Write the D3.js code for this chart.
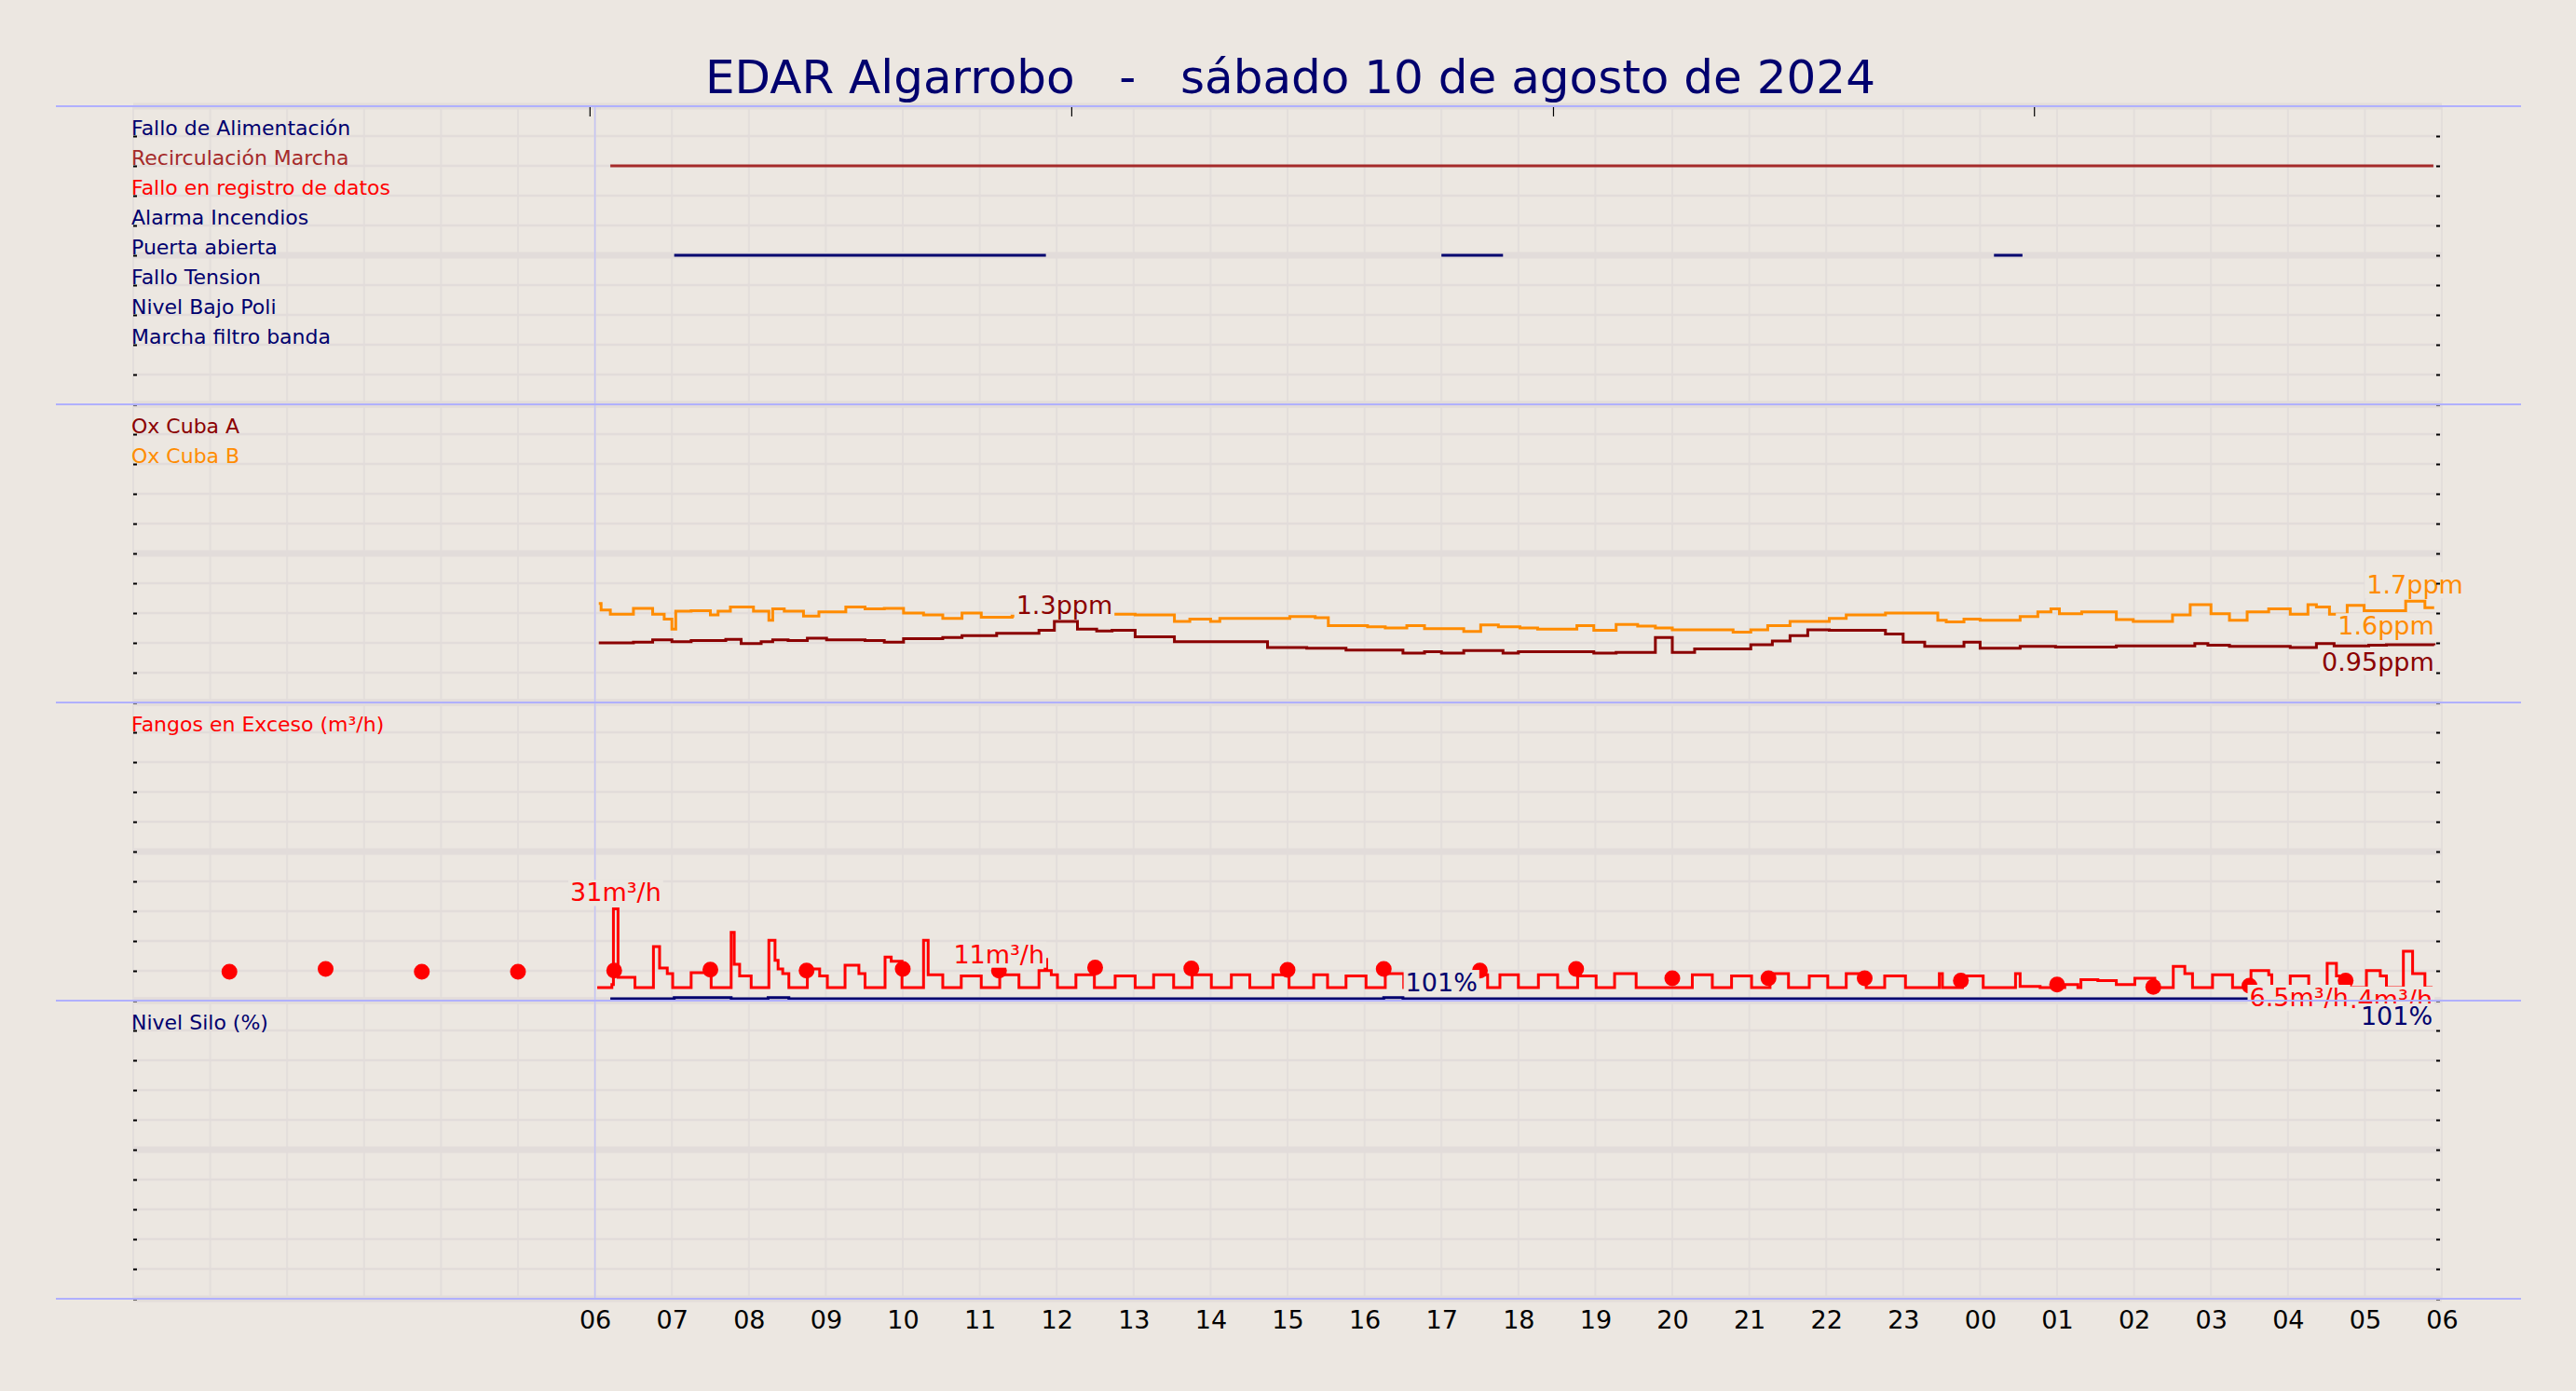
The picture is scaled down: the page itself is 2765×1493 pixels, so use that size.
<!DOCTYPE html>
<html>
<head>
<meta charset="utf-8">
<script src="https://cdn.jsdelivr.net/npm/d3@7"></script>
<style>
body { margin: 0; background: #ece7e1; }
text { font-family: "DejaVu Sans", sans-serif; }
</style>
</head>
<body>
<div id="chart"></div>
<script>
// ---- data ----
var title = "EDAR Algarrobo   -   sábado 10 de agosto de 2024";

var xTickHours = [6, 7, 8, 9, 10, 11, 12, 13, 14, 15, 16, 17, 18, 19, 20, 21, 22, 23, 24, 25, 26, 27, 28, 29, 30];
var topTickHours = [5.93, 12.19, 18.45, 24.7];

var signals = ["Fallo de Alimentación", "Recirculación Marcha", "Fallo en registro de datos", "Alarma Incendios",
               "Puerta abierta", "Fallo Tension", "Nivel Bajo Poli", "Marcha filtro banda"];
var signalEvents = [
  {signal: "Recirculación Marcha", start: 6.2, end: 29.89},
  {signal: "Puerta abierta", start: 7.03, end: 11.86},
  {signal: "Puerta abierta", start: 17.0, end: 17.8},
  {signal: "Puerta abierta", start: 24.18, end: 24.55}
];

var oxNames = ["Ox Cuba A", "Ox Cuba B"];
var oxAHours = [6.05, 6.5, 6.75, 7.0, 7.25, 7.7, 7.9, 8.16, 8.31, 8.51, 8.76, 9.01, 9.51, 9.76, 10.01, 10.52, 10.77,
  11.22, 11.77, 11.97, 12.27, 12.52, 12.72, 13.02, 13.53, 14.74, 15.25, 15.76, 16.5, 16.78, 17.0, 17.29, 17.8, 18.0,
  18.98, 19.27, 19.78, 20.0, 20.29, 21.02, 21.3, 21.53, 21.76, 22.04, 22.77, 23.0, 23.28, 23.79, 24.0, 24.52, 24.98,
  25.77, 26.79, 26.96, 27.24, 28.03, 28.37, 28.6, 29.05, 29.28, 29.9];
var oxAValues = [1.00, 1.01, 1.05, 1.02, 1.04, 1.06, 0.99, 1.02, 1.05, 1.04, 1.08, 1.05, 1.04, 1.01, 1.07, 1.09, 1.12,
  1.16, 1.21, 1.36, 1.23, 1.20, 1.21, 1.10, 1.02, 0.92, 0.91, 0.88, 0.83, 0.85, 0.83, 0.87, 0.83, 0.85,
  0.83, 0.84, 1.09, 0.84, 0.90, 0.97, 1.03, 1.12, 1.22, 1.21, 1.15, 1.01, 0.94, 1.01, 0.91, 0.94, 0.93,
  0.95, 0.99, 0.96, 0.94, 0.92, 0.99, 0.95, 0.96, 0.97, 0.96];
var oxBHours = [6.05, 6.08, 6.2, 6.5, 6.75, 6.9, 7.0, 7.05, 7.25, 7.5, 7.6, 7.76, 8.06, 8.26, 8.31, 8.46, 8.71, 8.91,
  9.26, 9.51, 9.76, 10.01, 10.27, 10.52, 10.77, 11.02, 11.42, 12.0, 12.72, 13.02, 13.53, 13.73, 14.0, 14.12, 15.03,
  15.36, 15.53, 16.04, 16.27, 16.55, 16.78, 17.29, 17.51, 17.74, 18.02, 18.25, 18.76, 18.98, 19.27, 19.55, 19.78,
  20.0, 20.79, 21.02, 21.24, 21.53, 22.04, 22.26, 22.77, 23.0, 23.45, 23.56, 23.79, 24.0, 24.24, 24.52, 24.75,
  24.92, 25.03, 25.32, 25.77, 25.99, 26.5, 26.73, 27.0, 27.24, 27.47, 27.75, 28.03, 28.26, 28.37, 28.54, 28.77,
  28.99, 29.22, 29.53, 29.78, 29.9];
var oxBValues = [1.66, 1.55, 1.48, 1.58, 1.48, 1.40, 1.23, 1.53, 1.54, 1.47, 1.53, 1.60, 1.53, 1.38, 1.57, 1.53, 1.45, 1.52,
  1.60, 1.57, 1.58, 1.50, 1.47, 1.41, 1.50, 1.43, 1.45, 1.48, 1.48, 1.47, 1.36, 1.40, 1.36, 1.41, 1.44,
  1.42, 1.29, 1.27, 1.25, 1.29, 1.24, 1.19, 1.30, 1.27, 1.25, 1.23, 1.29, 1.21, 1.31, 1.28, 1.25,
  1.22, 1.18, 1.22, 1.29, 1.36, 1.41, 1.47, 1.50, 1.50, 1.38, 1.35, 1.40, 1.38, 1.38, 1.44, 1.52,
  1.57, 1.49, 1.52, 1.39, 1.36, 1.47, 1.64, 1.49, 1.38, 1.52, 1.57, 1.48, 1.64, 1.60, 1.48, 1.63,
  1.54, 1.54, 1.70, 1.59, 1.59];

var fangosName = "Fangos en Exceso (m³/h)";
var fangosHours = [6.03, 6.22, 6.24, 6.3, 6.52, 6.76, 6.84, 6.94, 7.01, 7.25, 7.51, 7.77, 7.81, 7.88, 8.03, 8.26, 8.34,
  8.38, 8.44, 8.52, 8.76, 8.92, 9.02, 9.25, 9.43, 9.51, 9.77, 9.85, 9.99, 10.27, 10.33, 10.52, 10.76, 11.02, 11.26,
  11.51, 11.77, 11.85, 11.87, 11.93, 12.01, 12.25, 12.49, 12.76, 13.02, 13.26, 13.52, 13.76, 14.01, 14.27, 14.51,
  14.81, 15.02, 15.34, 15.52, 15.76, 16.02, 16.27, 16.51, 16.76, 17.02, 17.26, 17.6, 17.76, 18.0, 18.26, 18.51,
  18.77, 19.01, 19.25, 19.53, 20.26, 20.52, 20.77, 21.03, 21.27, 21.51, 21.78, 22.02, 22.26, 22.52, 22.76, 23.03,
  23.47, 23.51, 23.77, 24.04, 24.46, 24.52, 24.78, 25.1, 25.27, 25.31, 25.53, 25.77, 26.01, 26.27, 26.51, 26.66,
  26.76, 27.02, 27.28, 27.52, 27.75, 27.79, 28.03, 28.27, 28.51, 28.63, 28.78, 29.02, 29.2, 29.28, 29.5, 29.62,
  29.78, 29.88];
var fangosValues = [4.4, 5.4, 30.8, 7.8, 4.4, 18.1, 10.9, 9.1, 4.4, 9.4, 4.4, 22.9, 12.2, 8.3, 4.4, 20.2, 13.5,
  10.6, 9.1, 4.4, 10.6, 8.3, 4.4, 11.9, 9.1, 4.4, 14.6, 13.2, 4.4, 20.2, 8.7, 4.4, 8.3, 4.4, 8.7,
  4.4, 10.1, 13.8, 10.1, 8.7, 4.4, 8.7, 4.4, 8.3, 4.4, 8.7, 4.4, 8.7, 4.4, 8.7, 4.4,
  8.7, 4.4, 8.7, 4.4, 8.3, 4.4, 9.1, 4.4, 8.7, 4.4, 8.7, 4.4, 8.7, 4.4, 8.7, 4.4,
  8.3, 4.4, 9.1, 4.4, 8.7, 4.4, 8.3, 4.4, 9.1, 4.4, 8.3, 4.4, 9.1, 4.4, 8.3, 4.4,
  9.1, 4.4, 8.3, 4.4, 9.1, 4.8, 4.4, 5.4, 4.4, 7.0, 6.7, 5.4, 7.5, 4.4, 11.5, 9.1,
  4.4, 8.7, 4.4, 10.1, 8.7, 4.4, 8.3, 4.4, 12.5, 8.3, 4.4, 10.1, 8.3, 4.4, 16.6, 9.1,
  4.4, 4.4];
var dotHours = [1.25, 2.5, 3.75, 5.0, 6.25, 7.5, 8.75, 10.0, 11.25, 12.5, 13.75, 15.0, 16.25, 17.5, 18.75, 20.0,
  21.25, 22.5, 23.75, 25.0, 26.25, 27.5, 28.75];
var dotValues = [9.7, 10.6, 9.7, 9.7, 10.1, 10.4, 10.1, 10.6, 10.1, 11.1, 10.8, 10.3, 10.6, 10.1, 10.6, 7.5,
  7.5, 7.5, 6.7, 5.4, 4.6, 5.0, 6.7];

var siloName = "Nivel Silo (%)";
var siloHours = [6.2, 7.03, 7.77, 8.25, 8.52, 16.25, 16.5, 29.88];
var siloValues = [100.6, 101.0, 100.6, 101.0, 100.6, 101.0, 100.6, 100.6];

// value labels drawn on the series (later ones sit on top)
var annotations = [
  {series: "oxA", hour: 12.1, value: 1.36, text: "1.3ppm", place: "above"},
  {series: "oxB", hour: 29.65, value: 1.70, text: "1.7ppm", place: "above"},
  {series: "oxB", hour: 29.9, value: 1.59, text: "1.6ppm", place: "below-end"},
  {series: "oxA", hour: 29.9, value: 0.96, text: "0.95ppm", place: "below-end"},
  {series: "fangos", hour: 6.27, value: 30.8, text: "31m³/h", place: "above"},
  {series: "fangos", hour: 11.25, value: 10.1, text: "11m³/h", place: "above"},
  {series: "silo", hour: 17.0, value: 100.6, text: "101%", place: "above"},
  {series: "fangos", hour: 29.88, value: 4.4, text: "4.4m³/h", place: "below-end"},
  {series: "silo", hour: 29.88, value: 100.6, text: "101%", place: "below-end"},
  {series: "fangos", hour: 27.5, value: 5.0, text: "6.5m³/h", place: "below-start"}
];

// ---- styles / layout ----
var W = 2765, H = 1493;
var bg = "#ece7e1", navy = "#00006e";
var colors = {oxA: "#8b0000", oxB: "#ff8c00", fangos: "#ff0000", silo: navy};
var belowGap = {oxA: 27, oxB: 29, fangos: 22, silo: 28};
var signalColor = {"Recirculación Marcha": "#a52a2a", "Fallo en registro de datos": "#ff0000"};
var panelTops = [114, 434, 754, 1074], panelH = 320;

var svg = d3.select("#chart").append("svg").attr("width", W).attr("height", H);
svg.append("rect").attr("width", W).attr("height", H).attr("fill", bg);

var x = d3.scaleLinear().domain([0, 30]).range([143, 2621]);
var gridY = d3.scaleLinear().domain([0, 10]).range([panelH, 0]);
var rowY = d3.scalePoint().domain(signals).range([32, 256]);
var yOx = d3.scaleLinear().domain([0, 5]).range([panelH, 0]);
var yFangos = d3.scaleLinear().domain([0, 100]).range([panelH, 0]);
var ySilo = d3.scaleLinear().domain([0, 100]).range([panelH, 0]);
var yOf = {oxA: yOx, oxB: yOx, fangos: yFangos, silo: ySilo};
var panelOf = {oxA: 1, oxB: 1, fangos: 2, silo: 3};

var gridLayer = svg.append("g");
var dataLayer = svg.append("g");
var gridPanels = panelTops.map(function(t) {
  return gridLayer.append("g").attr("transform", "translate(0," + t + ")");
});

// grid
gridPanels.forEach(function(g) {
  g.selectAll(".vg").data(x.ticks(30)).enter().append("line")
    .attr("x1", x).attr("x2", x).attr("y1", 0).attr("y2", panelH)
    .attr("stroke", "#e3dedb").attr("stroke-width", 2);
  g.selectAll(".hg").data(gridY.ticks(10)).enter().append("line")
    .attr("x1", x(0)).attr("x2", x(30))
    .attr("y1", gridY).attr("y2", gridY)
    .attr("stroke", "#e2dcda")
    .attr("stroke-width", function(d) { return d % 5 === 0 ? 7 : 2.5; });
});

// start of day marker
gridLayer.append("line").attr("x1", x(6)).attr("x2", x(6))
  .attr("y1", panelTops[0]).attr("y2", panelTops[3] + panelH)
  .attr("stroke", "#c4c4f4").attr("stroke-width", 1.5);

var panels = panelTops.map(function(t) {
  return dataLayer.append("g").attr("transform", "translate(0," + t + ")");
});

// panel 1: digital signals
panels[0].selectAll(".ev").data(signalEvents).enter().append("line")
  .attr("x1", function(d) { return x(d.start); })
  .attr("x2", function(d) { return x(d.end); })
  .attr("y1", function(d) { return rowY(d.signal); })
  .attr("y2", function(d) { return rowY(d.signal); })
  .attr("stroke", function(d) { return signalColor[d.signal] || navy; })
  .attr("stroke-width", 3);

function stepLine(yScale) {
  return d3.line().x(function(d) { return x(d[0]); }).y(function(d) { return yScale(d[1]); })
    .curve(d3.curveStepAfter);
}

// panel 2: oxygen
panels[1].append("path").datum(d3.zip(oxBHours, oxBValues))
  .attr("d", stepLine(yOx)).attr("fill", "none").attr("stroke", colors.oxB).attr("stroke-width", 3);
panels[1].append("path").datum(d3.zip(oxAHours, oxAValues))
  .attr("d", stepLine(yOx)).attr("fill", "none").attr("stroke", colors.oxA).attr("stroke-width", 3);

// panel 4 line sits just above its top, across panel 3's edge
panels[3].append("path").datum(d3.zip(siloHours, siloValues))
  .attr("d", stepLine(ySilo)).attr("fill", "none").attr("stroke", colors.silo).attr("stroke-width", 3);

// panel 3: fangos
panels[2].append("path").datum(d3.zip(fangosHours, fangosValues))
  .attr("d", stepLine(yFangos)).attr("fill", "none").attr("stroke", colors.fangos).attr("stroke-width", 3);
panels[2].selectAll(".dot").data(d3.zip(dotHours, dotValues)).enter().append("circle")
  .attr("cx", function(d) { return x(d[0]); })
  .attr("cy", function(d) { return yFangos(d[1]); })
  .attr("r", 8.5).attr("fill", colors.fangos);

// value labels with a background box, all in one layer so the order holds
var noteLayer = svg.append("g");
annotations.forEach(function(a) {
  var px = x(a.hour), py = panelTops[panelOf[a.series]] + yOf[a.series](a.value);
  var anchor = a.place === "above" ? "middle" : (a.place === "below-end" ? "end" : "start");
  var ty = a.place === "above" ? py - 8 : py + belowGap[a.series];
  var t = noteLayer.append("text").attr("x", px).attr("y", ty).attr("text-anchor", anchor)
    .attr("fill", colors[a.series]).style("font-size", "27px").text(a.text);
  var b = t.node().getBBox();
  noteLayer.insert("rect", function() { return t.node(); })
    .attr("x", b.x - 2).attr("y", b.y + 2).attr("width", b.width + 4).attr("height", b.height - 3)
    .attr("fill", bg);
});

// small inward ticks on both sides
var tickLayer = svg.append("g");
panelTops.forEach(function(top) {
  var g = tickLayer.append("g").attr("transform", "translate(0," + top + ")");
  var tv = gridY.ticks(10).filter(function(v) { return v < 10; });
  var left = g.append("g").attr("transform", "translate(" + x(0) + ",0)")
    .call(d3.axisLeft(gridY).tickValues(tv).tickSize(-4).tickFormat(""));
  var right = g.append("g").attr("transform", "translate(" + (x(30) - 2) + ",0)")
    .call(d3.axisRight(gridY).tickValues(tv).tickSize(-4).tickFormat(""));
  [left, right].forEach(function(a) {
    a.select(".domain").remove();
    a.selectAll("line").attr("stroke", "#000").attr("stroke-width", 2);
  });
});

var topAxis = svg.append("g").attr("transform", "translate(0," + panelTops[0] + ")")
  .call(d3.axisTop(x).tickValues(topTickHours).tickSize(-11).tickFormat(""));
topAxis.select(".domain").remove();
topAxis.selectAll("line").attr("stroke", "#000").attr("stroke-width", 1.2);

// panel names
function panelLabels(top, names, color) {
  svg.append("g").attr("transform", "translate(0," + top + ")")
    .selectAll("text").data(names).enter().append("text")
    .attr("x", 141)
    .attr("y", function(d, i) { return 32 * (i + 1) - 1; })
    .attr("fill", color)
    .style("font-size", "22px")
    .text(function(d) { return d; });
}
panelLabels(panelTops[0], signals, function(d) { return signalColor[d] || navy; });
panelLabels(panelTops[1], oxNames, function(d, i) { return i === 0 ? colors.oxA : colors.oxB; });
panelLabels(panelTops[2], [fangosName], colors.fangos);
panelLabels(panelTops[3], [siloName], navy);

// panel separators
svg.selectAll(".sep").data(panelTops.concat([panelTops[3] + panelH])).enter().append("line")
  .attr("x1", 60).attr("x2", 2706).attr("y1", function(d) { return d; }).attr("y2", function(d) { return d; })
  .attr("stroke", "#b0b0ff").attr("stroke-width", 2);

// hour axis
var xAxis = svg.append("g").attr("transform", "translate(0," + (panelTops[3] + panelH) + ")")
  .call(d3.axisBottom(x).tickValues(xTickHours).tickSize(0).tickPadding(13)
    .tickFormat(function(h) { return String(h % 24).padStart(2, "0"); }));
xAxis.select(".domain").remove();
xAxis.selectAll("text").attr("fill", "#000").style("font-size", "27px")
  .style("font-family", "'DejaVu Sans', sans-serif");

// title
svg.append("text").attr("x", 1385).attr("y", 100).attr("text-anchor", "middle")
  .attr("xml:space", "preserve").style("white-space", "pre")
  .attr("fill", navy).style("font-size", "50px").text(title);
</script>
</body>
</html>
